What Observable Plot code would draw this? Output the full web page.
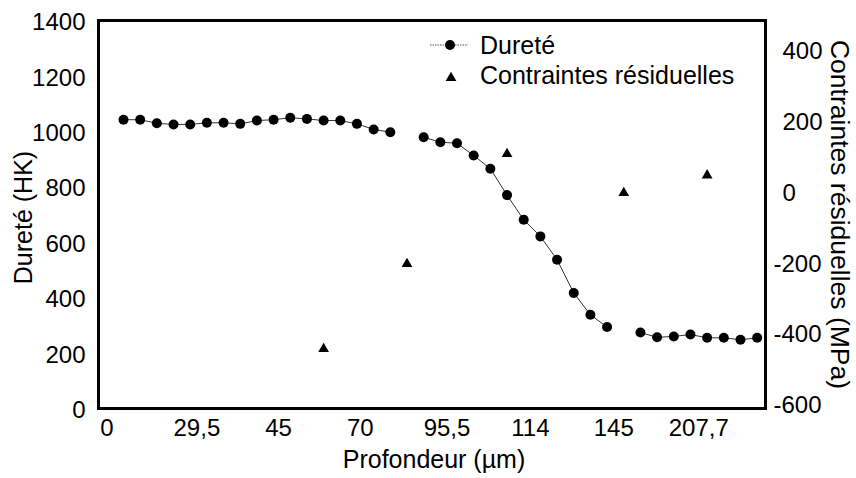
<!DOCTYPE html>
<html><head><meta charset="utf-8">
<script src="https://cdn.jsdelivr.net/npm/d3@7"></script>
<script src="https://cdn.jsdelivr.net/npm/@observablehq/plot@0.6"></script>
<style>body{margin:0;background:#fff}</style>
</head><body><div id="chart"></div>
<script>
// Category index (equally spaced measurement points)
const hardIndex = [0,1,2,3,4,5,6,7,8,9,10,11,12,13,14,15,16,17,18,19,20,21,22,23,24,25,26,27,28,29,30,31,32,33,34,35,36,37,38];
// Dureté (HK); null = no measurement
const hardValues = [1042,1042,1029,1025,1025,1031,1031,1027,1039,1042,1049,1045,1039,1039,1027,1007,997,null,979,961,957,913,865,770,681,621,537,417,338,294,null,274,257,260,267,255,255,248,255];
// Contraintes résiduelles (MPa)
const stressIndex = [12,17,23,30,35];
const stressValues = [-440,-200,110,0,50];
// x tick labels (depth, µm) and their category positions
const xTickPos = [-1,4.4,9.3,14.2,19.4,24.4,29.4,34.5];
const xTickLabels = ["0","29,5","45","70","95,5","114","145","207,7"];
const leftTicks = [0,200,400,600,800,1000,1200,1400];
const rightTicks = [-600,-400,-200,0,200,400];

// secondary axis mapping MPa -> HK scale units
const toLeft = v => 777.6 + 1.279 * v;
const fromLeft = h => (h - 777.6) / 1.279;

const hardData = hardIndex.map((i, k) => ({i, v: hardValues[k]}));
const stressData = stressIndex.map((i, k) => ({i, v: stressValues[k]}));

const font = '"Liberation Sans", Arial, sans-serif';
const chart = Plot.plot({
  width: 856, height: 478,
  marginLeft: 98, marginRight: 91, marginTop: 20, marginBottom: 70,
  style: {fontFamily: font, fontSize: "24px", background: "#fff", color: "#000"},
  x: {domain: [-1.5, 38.5], axis: null},
  y: {domain: [0, 1400], axis: null},
  marks: [
    Plot.axisX({ticks: xTickPos, anchor: "bottom", tickSize: 0, tickPadding: 10,
      tickFormat: d => xTickLabels[xTickPos.indexOf(d)], label: null, fontSize: 24}),
    Plot.axisY({ticks: leftTicks, anchor: "left", tickSize: 0, tickPadding: 13, label: null, dy: 2,
      tickFormat: d => String(d), fontSize: 24}),
    Plot.axisY({ticks: rightTicks.filter(v => v >= 0).map(toLeft), anchor: "right", tickSize: 0, tickPadding: 17,
      tickFormat: d => String(Math.round(fromLeft(d))), label: null, fontSize: 24}),
    Plot.axisY({ticks: rightTicks.filter(v => v < 0).map(toLeft), anchor: "right", tickSize: 0, tickPadding: 8,
      tickFormat: d => String(Math.round(fromLeft(d))), label: null, fontSize: 24}),
    Plot.line(hardData, {x: "i", y: "v", stroke: "#333", strokeWidth: 1}),
    Plot.dot(hardData.filter(d => d.v != null), {x: "i", y: "v", r: 5, fill: "#000"}),
    Plot.dot(stressData, {x: "i", y: d => toLeft(d.v), symbol: "triangle", r: 4, fill: "#000"}),
    Plot.frame({stroke: "#000", strokeWidth: 3}),
    Plot.text(["Profondeur (µm)"], {text: d => d, frameAnchor: "bottom", lineAnchor: "top", textAnchor: "middle", dy: 42, dx: 2, fontSize: 25}),
    Plot.text(["Dureté (HK)"], {text: d => d, frameAnchor: "left", textAnchor: "middle", rotate: -90, dx: -75, dy: 3, fontSize: 25}),
    Plot.text(["Contraintes résiduelles (MPa)"], {text: d => d, frameAnchor: "right", textAnchor: "middle", rotate: 90, dx: 74, fontSize: 26.5})
  ]
});
document.getElementById("chart").appendChild(chart);

// legend inside the plot area
const svg = d3.select(chart);
const lg = svg.append("g").attr("font-family", font).attr("font-size", 25).attr("text-anchor", "start");
lg.append("line").attr("x1", 430).attr("x2", 468).attr("y1", 45).attr("y2", 45)
  .attr("stroke", "#555").attr("stroke-width", 1).attr("stroke-dasharray", "1.5,1");
lg.append("circle").attr("cx", 450).attr("cy", 45).attr("r", 5).attr("fill", "#000");
lg.append("path").attr("d", d3.symbol(d3.symbolTriangle, 16 * Math.PI)()).attr("transform", "translate(451,78)").attr("fill", "#000");
lg.append("text").attr("x", 480).attr("y", 45).attr("dy", "0.35em").text("Dureté");
lg.append("text").attr("x", 480).attr("y", 75).attr("dy", "0.35em").text("Contraintes résiduelles");
</script>
</body></html>
